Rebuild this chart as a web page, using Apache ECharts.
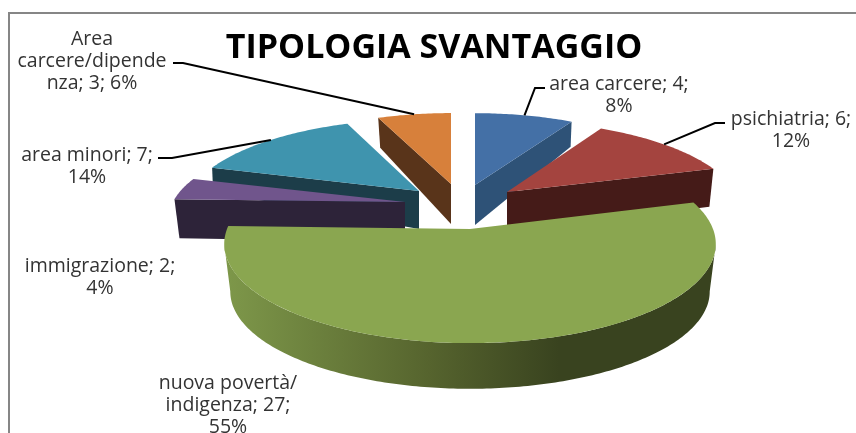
<!DOCTYPE html>
<html>
<head>
<meta charset="utf-8">
<style>html,body{margin:0;padding:0;background:#fff}#c{width:856px;height:433px}</style>
<script src="https://cdn.jsdelivr.net/npm/echarts@6/dist/echarts.min.js"></script>
</head>
<body>
<div id="c"></div>
<script>
// ---- data ----
const categories = ['area carcere', 'psichiatria', 'nuova povertà/indigenza', 'immigrazione', 'area minori', 'Area carcere/dipendenza'];
const values = [4, 6, 27, 2, 7, 3];
const percents = [8, 12, 55, 4, 14, 6];
const labelTexts = [
  'area carcere; 4;\n8%',
  'psichiatria; 6;\n12%',
  'nuova povertà/\nindigenza; 27;\n55%',
  'immigrazione; 2;\n4%',
  'area minori; 7;\n14%',
  'Area\ncarcere/dipende\nnza; 3; 6%'
];
const titleText = 'TIPOLOGIA SVANTAGGIO';

// ---- layout and style ----
const topColors = ['#4470a6', '#a4443f', '#8aa650', '#70558c', '#3f94ae', '#d7803b'];
const wallColors = ['#2e5277', '#451b18', null, '#2d2339', '#1c3d49', '#59341a'];
// Perspective projection of every exploded slice: apex position, radii, foreshortening
const projections = [
  {ax: 475, ay: 185, A: 214, B: 79, k: 0.10},
  {ax: 507, ay: 192, A: 229, B: 87, k: 0.224},
  {ax: 470, ay: 229, A: 243, B: 97, k: 0.15},
  {ax: 405, ay: 202, A: 232, B: 85, k: 0.18},
  {ax: 419, ay: 191, A: 229, B: 87, k: 0.215},
  {ax: 451, ay: 184, A: 212, B: 78, k: 0.10}
];
// Which radial edge shows a wall and how far the lower rim drops
const walls = [
  {edge: 'end', apexDrop: 40, cdx: -1, cdy: 25},
  {edge: 'end', apexDrop: 40, cdx: -4, cdy: 38},
  null,
  {edge: 'start', apexDrop: 40, cdx: 5, cdy: 39},
  {edge: 'start', apexDrop: 38, cdx: 1, cdy: 24},
  {edge: 'start', apexDrop: 40, cdx: 2, cdy: 30}
];
const drawOrder = [0, 5, 4, 3, 1, 2]; // back to front
const labelAnchors = [[619, 95], [791, 130], [228, 405.5], [100, 277], [87, 166], [92, 61.5]];
const leaderElbows = [
  [[545, 88], [535, 88]],
  [[725, 123], [715, 123]],
  null,
  null,
  [[158, 158], [172, 158]],
  [[173, 63], [183, 63]]
];
const greenBottom = {ax: 470, ay: 277, A: 237, B: 95, k: 0.15};
const labelFont = '"Open Sans", sans-serif';

const total = values.reduce((a, b) => a + b, 0);
function sliceAngles(i) {
  let s = 0;
  for (let j = 0; j < i; j++) s += values[j];
  return [s / total * 2 * Math.PI, (s + values[i]) / total * 2 * Math.PI];
}
function project(p, ang) {
  const u = Math.sin(ang), v = Math.cos(ang), s = 1 / (1 + p.k * v);
  return [p.ax + p.A * u * s, p.ay - p.B * v * s];
}
function arc(p, a0, a1) {
  const n = Math.max(4, Math.ceil((a1 - a0) / 0.015)), pts = [];
  for (let t = 0; t <= n; t++) pts.push(project(p, a0 + (a1 - a0) * t / n));
  return pts;
}

function renderItem(params, api) {
  const i = params.dataIndex;
  const [a0, a1] = sliceAngles(i);
  const p = projections[i];
  const z = drawOrder.indexOf(i) * 2 + 1;
  const children = [];
  const apex = [p.ax, p.ay];
  const rim = arc(p, a0, a1);

  if (walls[i]) {
    const w = walls[i];
    const c = w.edge === 'end' ? rim[rim.length - 1] : rim[0];
    children.push({
      type: 'polygon', z2: z,
      shape: {points: [apex, c, [c[0] + w.cdx, c[1] + w.cdy], [apex[0], apex[1] + w.apexDrop]]},
      style: {fill: wallColors[i]}
    });
  } else {
    // outer wall runs between the two silhouette points of the projected rim
    const wr = Math.acos(-p.k), wl = 2 * Math.PI - wr;
    const upper = arc(p, Math.max(a0, wr), Math.min(a1, wl));
    const low = arc(greenBottom, Math.max(a0, wr), Math.min(a1, wl)).reverse();
    children.push({
      type: 'polygon', z2: z,
      shape: {points: upper.concat(low)},
      style: {fill: new echarts.graphic.LinearGradient(224, 0, 716, 0, [
        {offset: 0, color: '#7e984a'},
        {offset: 0.415, color: '#56642e'},
        {offset: 0.68, color: '#39431f'},
        {offset: 1, color: '#39431f'}
      ], true)}
    });
  }
  children.push({
    type: 'polygon', z2: z + 1,
    shape: {points: [apex].concat(rim)},
    style: {fill: topColors[i]}
  });
  if (leaderElbows[i]) {
    const mid = project(p, (a0 + a1) / 2);
    children.push({
      type: 'polyline', z2: 30,
      shape: {points: leaderElbows[i].concat([mid])},
      style: {stroke: '#000', lineWidth: 2, fill: null}
    });
  }
  children.push({
    type: 'text', z2: 31,
    x: labelAnchors[i][0], y: labelAnchors[i][1],
    style: {
      text: labelTexts[i], fill: '#333', font: '400 19.5px ' + labelFont,
      lineHeight: 22, align: 'center', verticalAlign: 'middle'
    }
  });
  return {type: 'group', children};
}

const chart = echarts.init(document.getElementById('c'), null, {renderer: 'canvas'});
chart.setOption({
  animation: false,
  backgroundColor: '#fff',
  title: {
    text: titleText, left: 429, top: 26, textAlign: 'center',
    textStyle: {fontFamily: labelFont, fontWeight: 700, fontSize: 34, color: '#000'}
  },
  graphic: [{
    type: 'polyline', silent: true,
    shape: {points: [[9, 433], [9, 13], [856, 13]]},
    style: {stroke: '#868686', lineWidth: 2, fill: null}
  }],
  series: [{
    type: 'custom',
    coordinateSystem: 'none',
    silent: true,
    renderItem,
    data: categories.map((name, i) => ({name, value: [values[i], percents[i]]}))
  }]
});
</script>
</body>
</html>
